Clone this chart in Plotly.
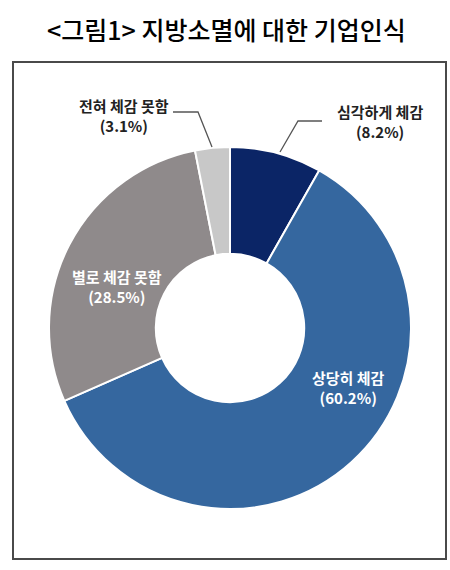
import plotly.graph_objects as go

title_text = "&lt;그림1&gt; 지방소멸에 대한 기업인식"
categories = ["심각하게 체감", "상당히 체감", "별로 체감 못함", "전혀 체감 못함"]
values = [8.2, 60.2, 28.5, 3.1]
colors = ["#0b2566", "#35679f", "#8f8a8b", "#c8c8c8"]

W, H = 450, 570
cx, cy, R = 230, 328, 181

def px(x):
    return x / W

def py(y):
    return 1 - y / H

fig = go.Figure()
fig.add_trace(go.Pie(
    labels=categories,
    values=values,
    sort=False,
    direction="clockwise",
    rotation=0,
    hole=0.41,
    marker=dict(colors=colors, line=dict(color="white", width=2)),
    textinfo="none",
    hoverinfo="label+percent",
    showlegend=False,
    domain=dict(x=[px(cx - R), px(cx + R)], y=[py(cy + R), py(cy - R)]),
))

# label placements (pixel coordinates of text centres) and colours
label_pos = [(380, 121), (348, 387), (117, 286), (124, 116)]
label_col = ["#222222", "white", "white", "#222222"]
for (x, y), c, cat, v in zip(label_pos, label_col, categories, values):
    fig.add_annotation(
        x=px(x), y=py(y), xref="paper", yref="paper",
        text=f"<b>{cat}<br>({v}%)</b>", showarrow=False,
        font=dict(family="Noto Sans CJK KR", size=15, color=c),
        align="center", xanchor="center", yanchor="middle",
    )

# leader lines
leaders = [
    [(322, 121), (298, 121), (280, 152)],
    [(173, 112), (198, 112), (212, 147)],
]
for pts in leaders:
    path = "M " + " L ".join(f"{px(x)},{py(y)}" for x, y in pts)
    fig.add_shape(type="path", xref="paper", yref="paper", path=path,
                  line=dict(color="#555555", width=1.3))

# frame
fig.add_shape(type="rect", xref="paper", yref="paper",
              x0=px(13), x1=px(446), y0=py(559), y1=py(62),
              line=dict(color="#4a4a4a", width=2))

fig.add_annotation(
    x=px(226), y=py(29), xref="paper", yref="paper",
    text=title_text, showarrow=False,
    font=dict(family="Noto Sans CJK KR", size=25, color="black", weight=500),
    xanchor="center", yanchor="middle",
)

fig.update_layout(
    width=W, height=H,
    margin=dict(l=0, r=0, t=0, b=0),
    paper_bgcolor="white", plot_bgcolor="white",
)

fig.write_html("out.html")
